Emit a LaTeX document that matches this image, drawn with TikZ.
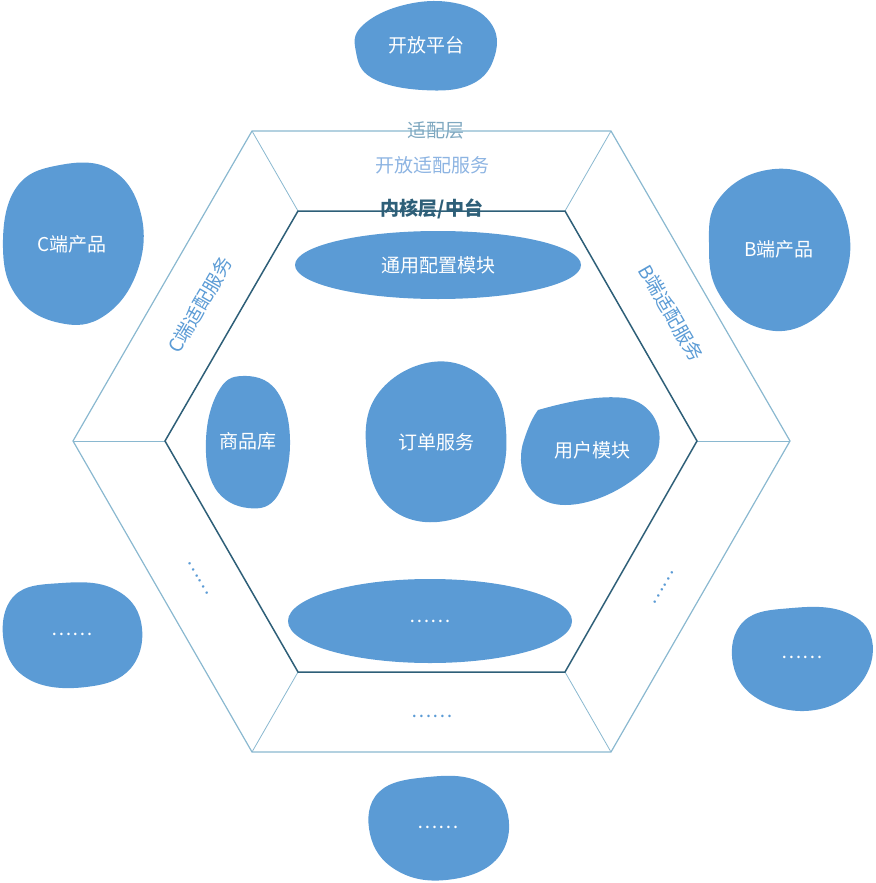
\documentclass[tikz,border=0pt]{standalone}
\usepackage{fontspec}
\setmainfont{Noto Sans CJK SC}
\usepackage{xcolor}
\usetikzlibrary{positioning,calc}
\definecolor{hblob}{HTML}{5B9BD5}
\definecolor{hout}{HTML}{8AB8D0}
\definecolor{hin}{HTML}{2E5F78}
\definecolor{hlayer}{HTML}{7FA8C0}
\definecolor{hsvc}{HTML}{8DB4E2}

\begin{document}
\begin{tikzpicture}[x=1pt,y=-1pt,every node/.style={font=\fontsize{19}{22}\selectfont,inner sep=1pt},
  blob/.style={fill=hblob,draw=none},
  blobtext/.style={text=white},
  edgetext/.style={text=hblob}]
  \useasboundingbox (0,0) rectangle (875,883);

  % outer and inner hexagon
  \coordinate (o1) at (73,441);  \coordinate (o2) at (252,131); \coordinate (o3) at (611,131);
  \coordinate (o4) at (790,441); \coordinate (o5) at (611,752); \coordinate (o6) at (252,752);
  \coordinate (i1) at (165,441); \coordinate (i2) at (298,211); \coordinate (i3) at (565,211);
  \coordinate (i4) at (697,441); \coordinate (i5) at (565,672); \coordinate (i6) at (298,672);
  \draw[hout,line width=1.2pt] (o1) -- (o2) -- (o3) -- (o4) -- (o5) -- (o6) -- cycle;
  \foreach \k in {1,...,6}
    \draw[hout,line width=0.8pt] (o\k) -- (i\k);
  \draw[hin,line width=1.5pt] (i1) -- (i2) -- (i3) -- (i4) -- (i5) -- (i6) -- cycle;

  % outside blobs
  \fill[blob] plot[smooth cycle,tension=0.7] coordinates {(362,26) (404,5) (455,3) (490,22) (495,55) (472,84) (422,90) (372,78) (356,52)};
  \node[blobtext] (open) at (426,45) {开放平台};
  \fill[blob] plot[smooth cycle,tension=0.7] coordinates {(16,188) (60,165) (112,170) (141,214) (137,272) (104,316) (60,323) (18,298) (3,248)};
  \node[blobtext] (cprod) at (72,244) {C端产品};
  \fill[blob] plot[smooth cycle,tension=0.7] coordinates {(718,200) (762,171) (815,178) (847,222) (843,282) (804,325) (754,326) (718,292) (709,245)};
  \node[blobtext] (bprod) at (779,249) {B端产品};
  \fill[blob] plot[smooth cycle,tension=0.7] coordinates {(14,596) (62,583) (114,589) (141,622) (131,668) (86,687) (30,680) (4,643)};
  \node[blobtext] (cmore) at (72,634) {……};
  \fill[blob] plot[smooth cycle,tension=0.7] coordinates {(744,621) (792,608) (845,612) (872,640) (860,684) (815,710) (760,700) (733,664)};
  \node[blobtext] (bmore) at (802,657) {……};
  \fill[blob] plot[smooth cycle,tension=0.7] coordinates {(379,792) (428,777) (480,782) (508,815) (496,860) (446,880) (396,870) (370,834)};
  \node[blobtext] (omore) at (438,827) {……};

  % inner blobs
  \fill[blob] (438,265) ellipse [x radius=143,y radius=34];
  \node[blobtext] (conf) at (438,265) {通用配置模块};
  \fill[blob] plot[smooth cycle,tension=0.7] coordinates {(242,376) (276,390) (290,440) (278,495) (248,508) (215,488) (206,440) (218,392)};
  \node[blobtext] (goods) at (248,441) {商品库};
  \fill[blob] plot[smooth cycle,tension=0.7] coordinates {(432,362) (486,380) (506,430) (494,490) (445,521) (390,508) (367,455) (377,395)};
  \node[blobtext] (order) at (436,442) {订单服务};
  \fill[blob] (538,410) .. controls (570,401) and (600,395) .. (625,398)
    .. controls (652,402) and (668,430) .. (655,458) .. controls (640,480) and (600,505) .. (565,505)
    .. controls (525,505) and (515,465) .. (524,440) .. controls (528,428) and (532,418) .. (538,410) -- cycle;
  \node[blobtext] (user) at (592,450) {用户模块};
  \fill[blob] (430,621) ellipse [x radius=142,y radius=42];
  \node[blobtext] (kmore) at (430,621) {……};

  % layer texts
  \node[text=hlayer] (adapt) at (436,130) {适配层};
  \node[text=hsvc] (osvc) at (432,165) {开放适配服务};
  \node[text=hin,font=\fontsize{19}{22}\selectfont\bfseries] (core) at (432,209) {内核层/中台};
  \node[edgetext,rotate=60] (csvc) at (200,305) {C端适配服务};
  \node[edgetext,rotate=-60] (bsvc) at (671,313) {B端适配服务};
  \node[edgetext,rotate=-60] (cdots) at (198,578) {……};
  \node[edgetext,rotate=60] (bdots) at (664,588) {……};
  \node[edgetext] (odots) at (432,716) {……};
\end{tikzpicture}
\end{document}
